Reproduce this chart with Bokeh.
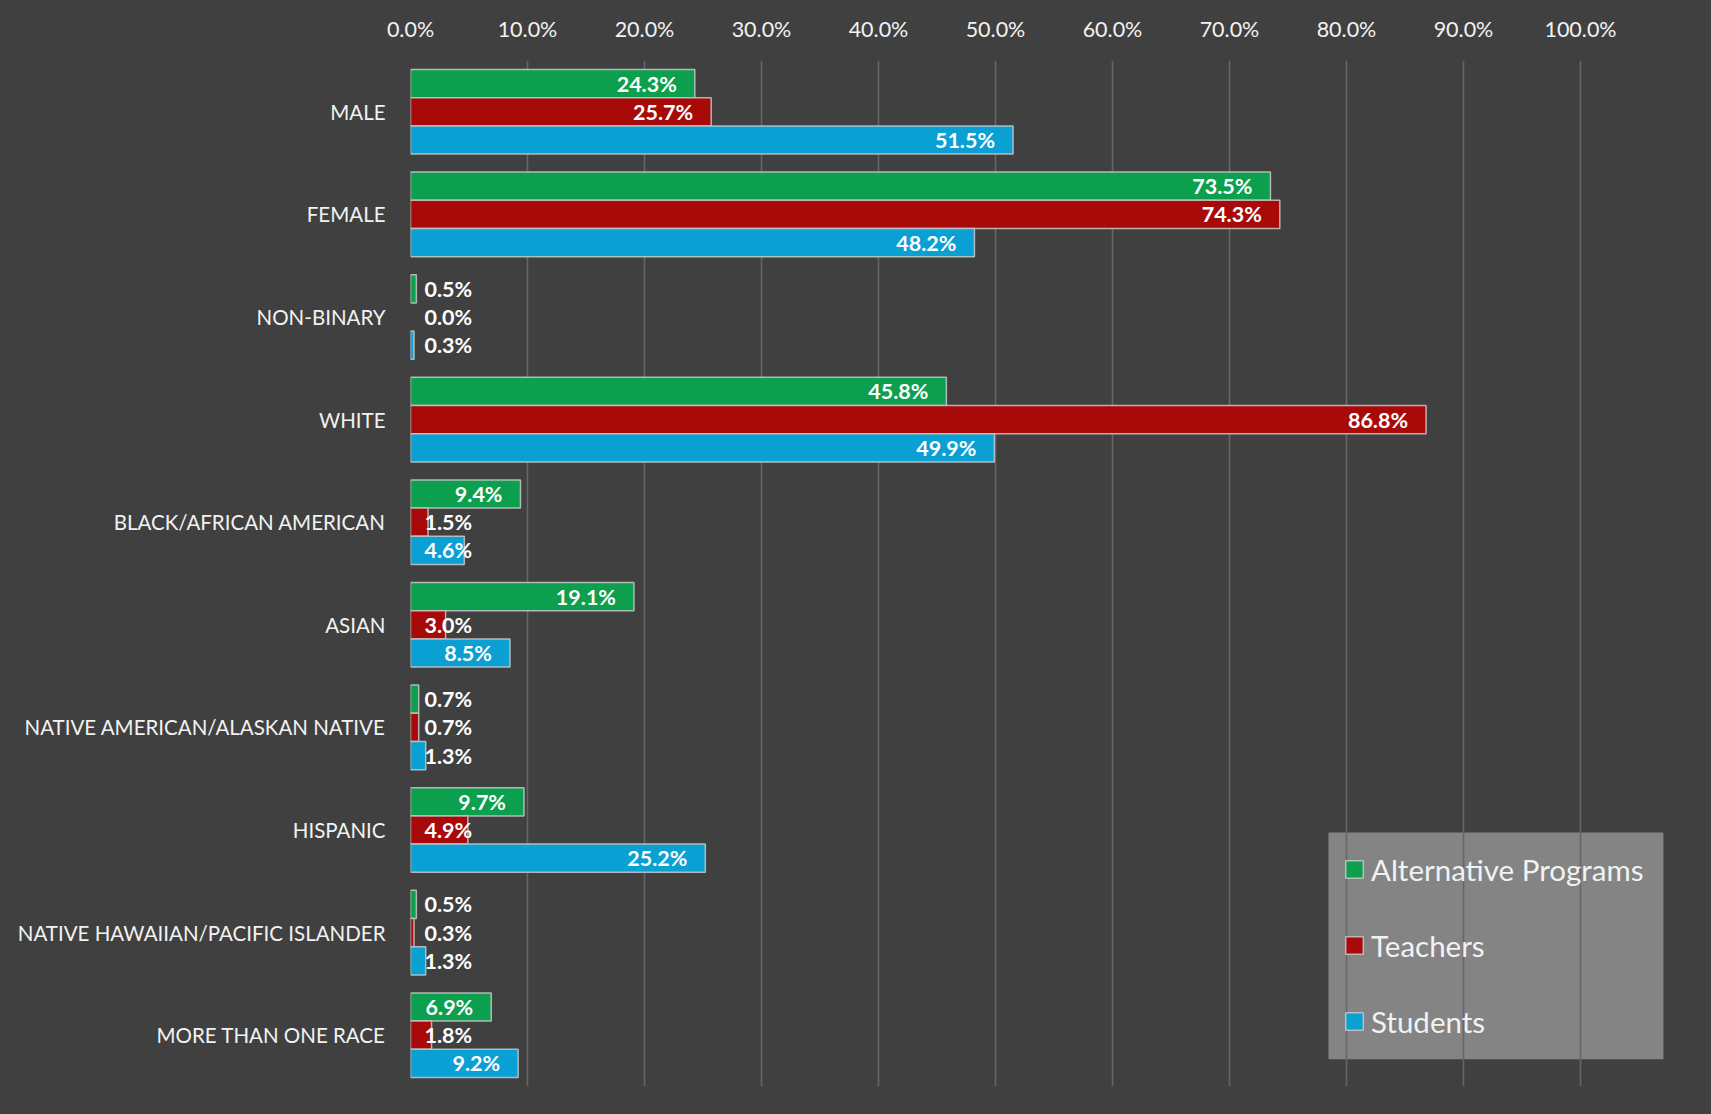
from bokeh.plotting import figure
from bokeh.models import (ColumnDataSource, Range1d, FixedTicker, PrintfTickFormatter,
                          Legend, LegendItem, BoxAnnotation, CDSView, BooleanFilter)
from bokeh.transform import dodge
from bokeh.core.properties import value
from bokeh.embed import file_html
from bokeh.resources import INLINE

categories = ["MALE", "FEMALE", "NON-BINARY", "WHITE", "BLACK/AFRICAN AMERICAN", "ASIAN",
              "NATIVE AMERICAN/ALASKAN NATIVE", "HISPANIC", "NATIVE HAWAIIAN/PACIFIC ISLANDER",
              "MORE THAN ONE RACE"]
alternative_programs = [24.3, 73.5, 0.5, 45.8, 9.4, 19.1, 0.7, 9.7, 0.5, 6.9]
teachers = [25.7, 74.3, 0.0, 86.8, 1.5, 3.0, 0.7, 4.9, 0.3, 1.8]
students = [51.5, 48.2, 0.3, 49.9, 4.6, 8.5, 1.3, 25.2, 1.3, 9.2]
series_names = ["Alternative Programs", "Teachers", "Students"]
series_colors = ["#0c9f4d", "#a80a0a", "#0aa0d4"]
x_ticks = [0, 10, 20, 30, 40, 50, 60, 70, 80, 90, 100]

BG = "#404040"
FONT = "Lato"
BAR_H = 0.275
offsets = [-BAR_H, 0.0, BAR_H]

p = figure(width=1711, height=1114, output_backend="svg", toolbar_location=None,
           x_range=Range1d(0, 110), y_range=Range1d(9.5, -0.5),
           x_axis_location="above",
           min_border_left=410, min_border_right=14, min_border_top=60, min_border_bottom=28)
p.background_fill_alpha = 0
p.border_fill_color = BG
p.outline_line_color = None
p.styles = {"background-color": BG}

# legend background drawn beneath the grid lines
p.add_layout(BoxAnnotation(left=78.46, right=107.09, top=7.024, bottom=9.234,
                           fill_color="#848484", fill_alpha=1.0, line_color=None, level="image"))

p.xgrid.ticker = FixedTicker(ticks=x_ticks[1:])
p.xgrid.grid_line_color = "#666666"
p.xgrid.grid_line_width = 1.6
p.ygrid.grid_line_color = None

xa = p.xaxis[0]
xa.ticker = FixedTicker(ticks=x_ticks)
xa.formatter = PrintfTickFormatter(format="%.1f%%")
xa.axis_line_color = None
xa.major_tick_line_color = None
xa.minor_tick_line_color = None
xa.major_tick_out = 0
xa.major_label_standoff = 19
xa.major_label_text_font = FONT
xa.major_label_text_font_size = "21.5px"
xa.major_label_text_color = "#f2f2f2"

ya = p.yaxis[0]
ya.ticker = FixedTicker(ticks=list(range(len(categories))))
ya.major_label_overrides = {i: c for i, c in enumerate(categories)}
ya.axis_line_color = None
ya.major_tick_line_color = None
ya.minor_tick_line_color = None
ya.major_tick_out = 0
ya.major_label_standoff = 25
ya.major_label_text_font = FONT
ya.major_label_text_font_size = "20.5px"
ya.major_label_text_color = "#f2f2f2"

legend_items = []
for name, vals, color, off in zip(series_names, [alternative_programs, teachers, students],
                                  series_colors, offsets):
    src = ColumnDataSource(dict(
        y=list(range(len(categories))),
        v=vals,
        lbl=[f"{v:.1f}%" for v in vals],
        la=[0.0 if v == 0 else 0.85 for v in vals],
        zero=[0 for _ in vals],
    ))
    r = p.hbar(y=dodge("y", off, range=p.y_range), left=0, right="v", height=BAR_H, source=src,
               fill_color=color, line_color="#c8c8c8", line_alpha="la", line_width=1.5)
    legend_items.append(LegendItem(label=name, renderers=[r]))
    inside = CDSView(filter=BooleanFilter([v >= 6.5 for v in vals]))
    outside = CDSView(filter=BooleanFilter([v < 6.5 for v in vals]))
    p.text(x="v", y=dodge("y", off, range=p.y_range), text="lbl", source=src, view=inside,
           text_align="right", text_baseline="middle", x_offset=-18,
           text_font=value(FONT), text_font_style="bold", text_font_size="21.5px",
           text_color="white")
    p.text(x="zero", y=dodge("y", off, range=p.y_range), text="lbl", source=src, view=outside,
           text_align="left", text_baseline="middle", x_offset=14,
           text_font=value(FONT), text_font_style="bold", text_font_size="21.5px",
           text_color="white")

legend = Legend(items=legend_items, location=(933, 47), orientation="vertical",
                background_fill_alpha=0, border_line_alpha=0,
                glyph_width=22, glyph_height=22, label_standoff=6,
                label_height=36, spacing=40, padding=0, margin=0,
                label_text_font=FONT, label_text_font_size="29.5px", label_text_color="#f2f2f2")
p.add_layout(legend)

open("out.html", "w").write(file_html(p, INLINE))
